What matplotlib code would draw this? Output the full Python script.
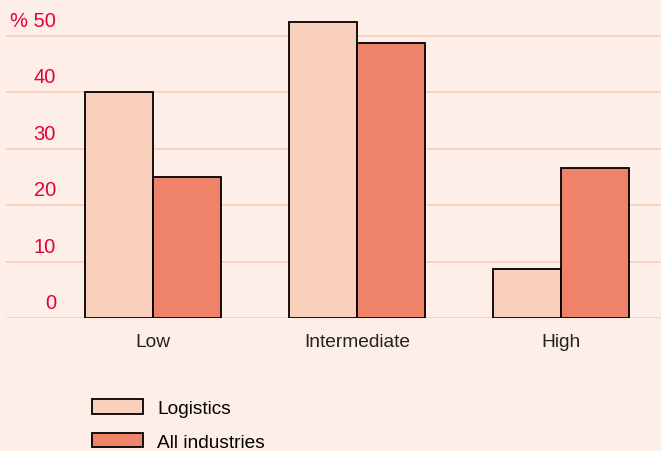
import matplotlib.pyplot as plt
import matplotlib.transforms as mtransforms
import numpy as np

# data
categories = ['Low', 'Intermediate', 'High']
logistics = [40, 52.5, 8.7]
all_industries = [25, 48.8, 26.5]
y_ticks = [0, 10, 20, 30, 40, 50]
y_labels = ['0', '10', '20', '30', '40', '% 50']

bg = '#FDEEE7'
grid_col = '#F9D2BF'
red = '#E4003B'
c_log = '#F9D0BB'
c_all = '#EE836A'

plt.rcParams['font.family'] = ['Liberation Sans', 'DejaVu Sans']

fig = plt.figure(figsize=(6.61, 4.52), dpi=100, facecolor=bg)
ax = fig.add_axes([0.009, 0.2945, 0.991, 0.686], facecolor=bg)

x = np.arange(len(categories))
w = 1 / 3
ax.bar(x - w / 2, logistics, w, color=c_log, edgecolor='black', linewidth=1.3,
       label='Logistics', zorder=3)
ax.bar(x + w / 2, all_industries, w, color=c_all, edgecolor='black', linewidth=1.3,
       label='All industries', zorder=3)

ax.set_xlim(-0.72, 2.49)
ax.set_ylim(0, 55)
ax.set_yticks(y_ticks)
ax.yaxis.grid(True, color=grid_col, linewidth=1.4, zorder=0)
ax.set_yticklabels([])
ax.tick_params(axis='y', length=0)
ax.set_xticks(x)
ax.set_xticklabels(categories, fontsize=13.8, color='#222222')
ax.tick_params(axis='x', length=0, pad=11)
for s in ax.spines.values():
    s.set_visible(False)

# y labels sit above their gridlines, in red
trans = mtransforms.blended_transform_factory(ax.transAxes, ax.transData)
trans = mtransforms.offset_copy(trans, fig=fig, x=0, y=6, units='dots')
for v, lab in zip(y_ticks, y_labels):
    ax.text(0.0763, v, lab, transform=trans, ha='right', va='bottom',
            fontsize=14.5, color=red)

fig.legend(loc='upper left', bbox_to_anchor=(0.125, 0.136), frameon=False,
           fontsize=13.8, handlelength=2.65, handleheight=0.82,
           handletextpad=0.75, labelspacing=0.8, borderpad=0)

fig.savefig('out.png', dpi=100, facecolor=bg)
